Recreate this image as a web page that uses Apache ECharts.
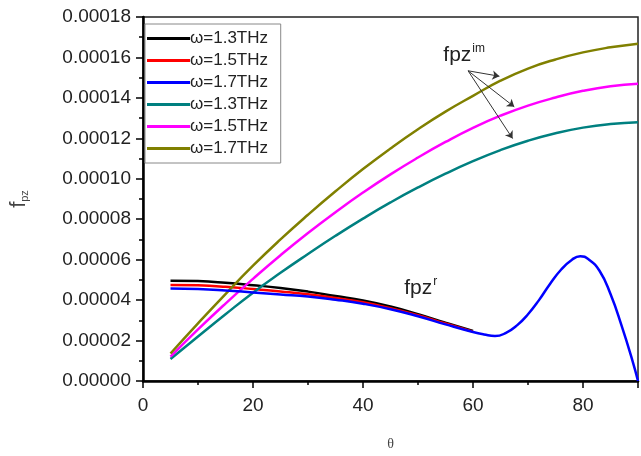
<!DOCTYPE html>
<html lang="en">
<head>
<meta charset="UTF-8">
<title>fpz vs theta</title>
<script src="https://cdn.jsdelivr.net/npm/echarts@6/dist/echarts.min.js"></script>
<style>
    * { margin: 0; padding: 0 }
    html, body { width: 100%; height: 100%; background: #fff; }
    #main { width: 641px; height: 456px; }
</style>
</head>
<body>
<div id="main"></div>
<script>
    // theta in degrees, values in units of 1e-5
    var thetaRe = [5, 10, 15, 20, 25, 30, 35, 40, 45, 50, 55, 60];
    var re13 = [4.96, 4.94, 4.86, 4.74, 4.6, 4.42, 4.2, 3.98, 3.68, 3.3, 2.88, 2.47];
    var re15 = [4.75, 4.73, 4.66, 4.55, 4.43, 4.29, 4.1, 3.89, 3.6, 3.25, 2.84, 2.44];
    var thetaRe17 = [5, 10, 15, 20, 25, 30, 35, 40, 45, 50, 55, 60, 62, 64, 66, 68, 70, 72, 74, 76, 78, 79.5, 81, 83, 85, 87, 89, 90];
    var re17 = [4.57, 4.55, 4.48, 4.38, 4.28, 4.18, 4.02, 3.82, 3.55, 3.2, 2.8, 2.42, 2.3, 2.22, 2.38, 2.75, 3.3, 4.0, 4.8, 5.5, 6.0, 6.17, 6.02, 5.45, 4.3, 2.75, 1.0, 0];

    var thetaIm = [5, 10, 15, 20, 25, 30, 35, 40, 45, 50, 55, 60, 65, 70, 75, 80, 85, 90];
    var im13 = [1.09, 2.2, 3.3, 4.37, 5.35, 6.28, 7.18, 8.03, 8.83, 9.57, 10.25, 10.87, 11.42, 11.88, 12.25, 12.53, 12.71, 12.8];
    var im15 = [1.2, 2.55, 3.83, 5.05, 6.22, 7.32, 8.35, 9.32, 10.22, 11.05, 11.82, 12.52, 13.12, 13.62, 14.02, 14.35, 14.58, 14.7];
    var im17 = [1.36, 2.85, 4.3, 5.7, 7.0, 8.22, 9.38, 10.48, 11.5, 12.45, 13.32, 14.1, 14.85, 15.45, 15.9, 16.25, 16.5, 16.68];

    var yTicks = ['0.00000', '0.00002', '0.00004', '0.00006', '0.00008', '0.00010', '0.00012', '0.00014', '0.00016', '0.00018'];
    var legendNames = ['ω=1.3THz', 'ω=1.5THz', 'ω=1.7THz', 'ω=1.3THz ', 'ω=1.5THz ', 'ω=1.7THz '];
    var colors = ['#000000', '#ff0000', '#0000ff', '#008080', '#ff00ff', '#808000'];

    // arrows pointing from the fpz^im label to the three curves [theta, value]
    var arrowFrom = [59.1, 15.34];
    var arrowTo = [[64.8, 15.07], [67.5, 13.56], [67.2, 11.99]];

    function pairs(xs, ys) {
        return xs.map(function (x, i) { return [x, ys[i] * 1e-5]; });
    }

    var font = 'Liberation Sans, Arial, sans-serif';
    var myChart = echarts.init(document.getElementById('main'));

    var series = [
        pairs(thetaRe, re13), pairs(thetaRe, re15), pairs(thetaRe17, re17),
        pairs(thetaIm, im13), pairs(thetaIm, im15), pairs(thetaIm, im17)
    ].map(function (d, i) {
        return {
            name: legendNames[i],
            type: 'line',
            data: d,
            smooth: 0.5,
            symbol: 'none',
            lineStyle: { width: 2.5, color: colors[i] },
            itemStyle: { color: colors[i] },
            z: i === 2 ? 5 : 3
        };
    });

    series.push({
        type: 'line',
        data: [],
        markLine: {
            silent: true,
            symbol: ['none', 'arrow'],
            symbolSize: 7,
            label: { show: false },
            lineStyle: { color: '#333', width: 1, type: 'solid' },
            data: arrowTo.map(function (p) {
                return [{ coord: [arrowFrom[0], arrowFrom[1] * 1e-5] }, { coord: [p[0], p[1] * 1e-5] }];
            })
        }
    });

    var option = {
        animation: false,
        color: colors,
        grid: {
            left: 138, right: 1, top: 17, bottom: 68,
            show: true, borderColor: '#222', borderWidth: 1.5
        },
        legend: {
            orient: 'vertical',
            left: 145, top: 24,
            data: legendNames,
            icon: 'rect',
            itemWidth: 43, itemHeight: 3,
            itemGap: 5,
            padding: [6, 8, 6, 2],
            borderColor: '#888', borderWidth: 1,
            textStyle: { fontFamily: font, fontSize: 17, color: '#222', padding: [0, 0, 0, -5] }
        },
        xAxis: {
            type: 'value',
            min: 0, max: 90, interval: 20,
            name: 'θ',
            nameLocation: 'middle',
            nameGap: 56,
            nameTextStyle: { fontFamily: 'Liberation Serif, serif', fontSize: 14, color: '#444' },
            splitLine: { show: false },
            axisLine: { lineStyle: { color: '#000', width: 2.5 } },
            axisTick: { length: 7, lineStyle: { color: '#000', width: 1.5 } },
            minorTick: { show: true, splitNumber: 2, length: 4, lineStyle: { color: '#000', width: 1.5 } },
            axisLabel: {
                fontFamily: font, fontSize: 19, color: '#222', margin: 15,
                formatter: function (v) { return v === 90 ? '' : String(v); }
            }
        },
        yAxis: {
            type: 'value',
            min: 0, max: 0.00018, interval: 0.00002,
            name: '{a|f}{b|pz}',
            nameLocation: 'middle',
            nameGap: 113,
            nameRotate: 90,
            nameTextStyle: {
                rich: {
                    a: { fontFamily: font, fontSize: 22, color: '#444' },
                    b: { fontFamily: font, fontSize: 11, color: '#444', verticalAlign: 'bottom', padding: [8, 0, 0, 0] }
                }
            },
            splitLine: { show: false },
            axisLine: { lineStyle: { color: '#000', width: 2.5 } },
            axisTick: { length: 7, lineStyle: { color: '#000', width: 1.5 } },
            minorTick: { show: true, splitNumber: 2, length: 4, lineStyle: { color: '#000', width: 1.5 } },
            axisLabel: {
                fontFamily: font, fontSize: 19, color: '#222', margin: 12,
                formatter: function (v) { return yTicks[Math.round(v / 0.00002)]; }
            }
        },
        series: series
    };

    myChart.setOption(option);

    // annotation labels placed from data coordinates
    var pIm = myChart.convertToPixel({ gridIndex: 0 }, [54.6, 15.5e-5]);
    var pRe = myChart.convertToPixel({ gridIndex: 0 }, [47.5, 3.98e-5]);
    var rich = {
        m: { fontFamily: font, fontSize: 21, fill: '#222' },
        s: { fontFamily: font, fontSize: 12, fill: '#222', padding: [0, 0, 13, 1] }
    };
    myChart.setOption({
        graphic: [
            { type: 'text', x: pIm[0], y: pIm[1], style: { text: '{m|fpz}{s|im}', rich: rich, verticalAlign: 'bottom' } },
            { type: 'text', x: pRe[0], y: pRe[1], style: { text: '{m|fpz}{s|r}', rich: rich, verticalAlign: 'bottom' } }
        ]
    });
</script>
</body>
</html>
